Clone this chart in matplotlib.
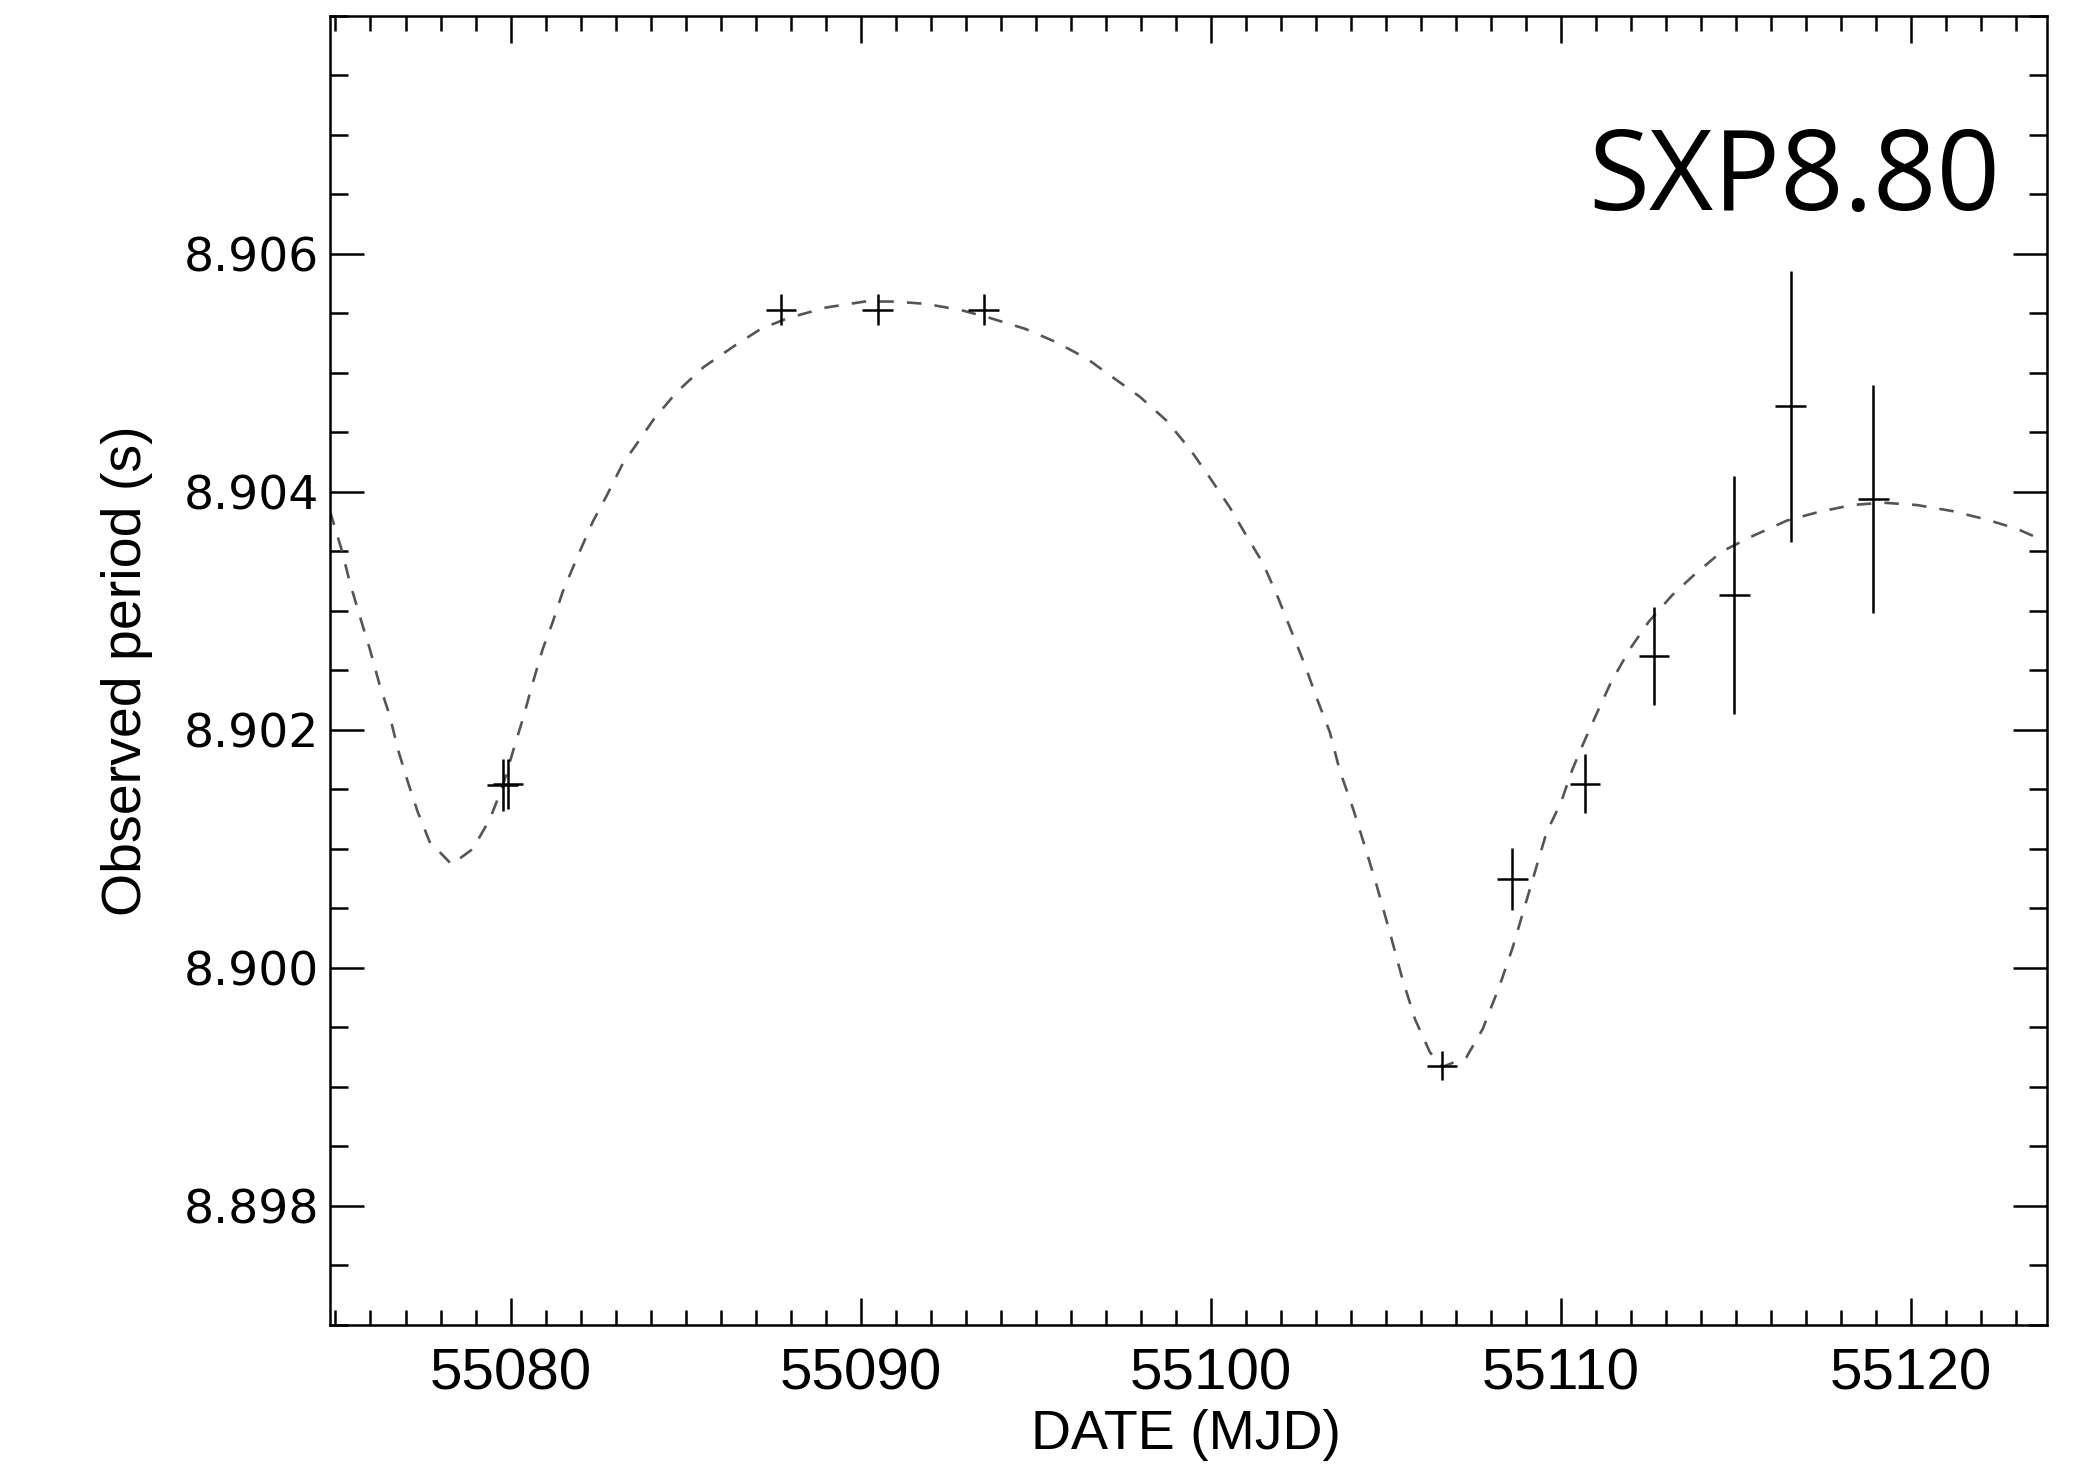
import matplotlib
matplotlib.use("Agg")
import matplotlib.pyplot as plt
from matplotlib.ticker import MultipleLocator, FormatStrFormatter

# measured pulse periods: MJD, period (s), 1-sigma error
mjd = [55079.78, 55079.93, 55087.73, 55090.49, 55093.52, 55106.61,
       55108.62, 55110.70, 55112.67, 55114.96, 55116.58, 55118.93]
period = [8.90154, 8.90155, 8.90553, 8.90553, 8.90553, 8.89918,
          8.90075, 8.90155, 8.90262, 8.90313, 8.90472, 8.90394]
period_err = [0.00022, 0.00021, 0.00013, 0.00013, 0.00013, 0.00012,
              0.00026, 0.00025, 0.00041, 0.00100, 0.00114, 0.00096]
mjd_err = 0.44

# orbital model (dashed line)
model_mjd = [55074.84, 55075.17, 55075.41, 55075.69, 55075.98, 55076.27,
             55076.55, 55076.78, 55077.07, 55077.35, 55077.69, 55078.32,
             55078.92, 55079.41, 55079.78, 55080.12, 55080.35, 55080.64,
             55080.92, 55081.21, 55081.49, 55081.89, 55082.35, 55082.75,
             55083.21, 55083.55, 55084.09, 55084.75, 55085.52, 55086.41,
             55087.15, 55087.92, 55089.02, 55090.12, 55090.99, 55091.87,
             55092.85, 55093.72, 55094.71, 55095.58, 55096.47, 55097.03,
             55097.98, 55098.74, 55099.41, 55099.98, 55100.55, 55101.03,
             55101.50, 55101.93, 55102.31, 55102.69, 55103.03, 55103.41,
             55103.69, 55104.07, 55104.41, 55104.74, 55105.12, 55105.46,
             55105.84, 55106.27, 55106.64, 55107.31, 55107.78, 55108.27,
             55108.64, 55109.12, 55109.60, 55110.01, 55110.34, 55110.67,
             55111.05, 55111.44, 55111.98, 55112.52, 55113.18, 55113.84,
             55114.61, 55115.49, 55116.47, 55117.35, 55118.32, 55119.21,
             55120.18, 55121.18, 55122.15, 55123.04, 55123.81]
model_period = [8.90384, 8.90352, 8.90324, 8.90296, 8.90268, 8.90237,
                8.90212, 8.90184, 8.90156, 8.90131, 8.90106, 8.90087,
                8.90100, 8.90125, 8.90153, 8.90187, 8.90209, 8.90240,
                8.90268, 8.90291, 8.90316, 8.90344, 8.90375, 8.90397,
                8.90424, 8.90438, 8.90461, 8.90484, 8.90505, 8.90523,
                8.90537, 8.90546, 8.90555, 8.90560, 8.90560, 8.90558,
                8.90553, 8.90546, 8.90537, 8.90526, 8.90512, 8.90500,
                8.90480, 8.90460, 8.90436, 8.90412, 8.90387, 8.90363,
                8.90340, 8.90311, 8.90283, 8.90255, 8.90227, 8.90198,
                8.90166, 8.90134, 8.90102, 8.90070, 8.90030, 8.89993,
                8.89957, 8.89929, 8.89917, 8.89925, 8.89949, 8.89986,
                8.90018, 8.90066, 8.90114, 8.90139, 8.90167, 8.90190,
                8.90215, 8.90240, 8.90268, 8.90291, 8.90313, 8.90331,
                8.90350, 8.90363, 8.90376, 8.90383, 8.90389, 8.90391,
                8.90389, 8.90384, 8.90377, 8.90369, 8.90359]

y_major = [8.898, 8.900, 8.902, 8.904, 8.906]

narrow = ["Liberation Sans Narrow", "Liberation Sans", "DejaVu Sans"]

fig = plt.figure(figsize=(20.84, 14.75), dpi=100)
ax = fig.add_axes([0.1583, 0.1017, 0.824, 0.8875])

ax.plot(model_mjd, model_period, ls=(0, (5.5, 5)), color="#555555", lw=1.9)
ax.errorbar(mjd, period, xerr=mjd_err, yerr=period_err, fmt="none",
            ecolor="black", elinewidth=1.8, capsize=0)

ax.set_xlim(55074.84, 55123.9)
ax.set_ylim(8.897, 8.908)

ax.xaxis.set_major_locator(MultipleLocator(10))
ax.xaxis.set_minor_locator(MultipleLocator(1))
ax.set_yticks(y_major)
ax.yaxis.set_minor_locator(MultipleLocator(0.0005))
ax.yaxis.set_major_formatter(FormatStrFormatter("%.3f"))
ax.xaxis.set_major_formatter(FormatStrFormatter("%d"))

for s in ax.spines.values():
    s.set_linewidth(1.8)

ax.tick_params(axis="both", which="both", direction="in",
               top=True, right=True, width=1.8)
ax.tick_params(axis="x", which="major", length=19.5, pad=16,
               labelsize=42, labelfontfamily=narrow)
ax.tick_params(axis="x", which="minor", length=11)
ax.tick_params(axis="y", which="major", length=24.5, pad=8,
               labelsize=34, labelfontfamily="DejaVu Sans")
ax.tick_params(axis="y", which="minor", length=13)

ax.set_xlabel("DATE (MJD)", fontsize=40, family=narrow)
ax.xaxis.set_label_coords(0.4986, -0.064)
ax.set_ylabel("Observed period (s)", fontsize=40, family=narrow, va="center")
ax.yaxis.set_label_coords(-0.118, 0.5)

fig.text(0.9597, 0.8576, "SXP8.80", fontsize=80, family="Open Sans",
         ha="right", va="baseline")

fig.savefig("out.png", dpi=100)
